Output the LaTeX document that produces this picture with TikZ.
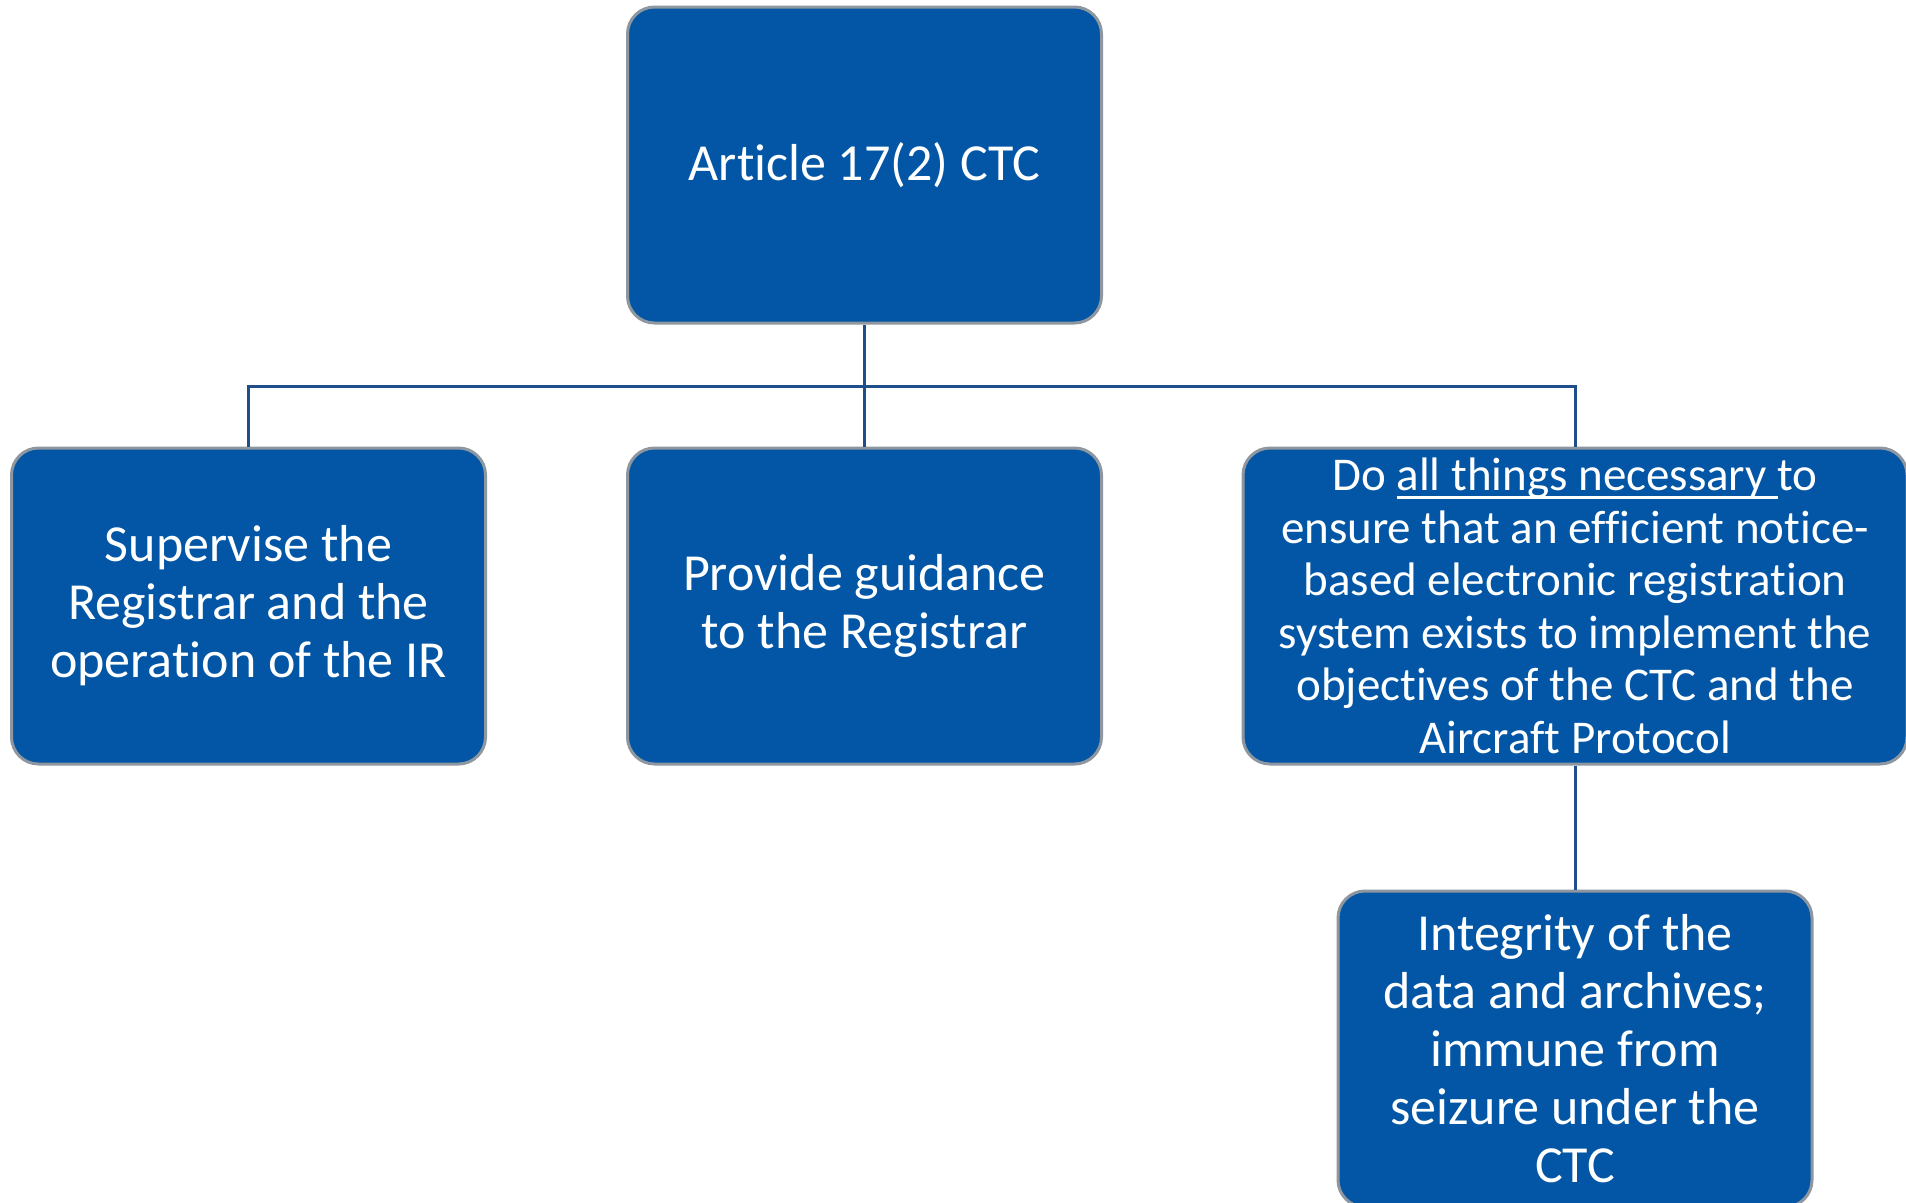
\documentclass[tikz,border=0pt]{standalone}
\usepackage{fontspec}
\setmainfont{Carlito}[Ligatures={NoCommon}]
\newcommand\myul[1]{\setbox0\hbox{#1}\rlap{\rule[-8pt]{\wd0}{2.5pt}}\box0}
\newcommand\nl{\kern0pt{}}
\definecolor{boxblue}{HTML}{0256A5}
\definecolor{boxedge}{HTML}{8E979F}
\definecolor{linkblue}{HTML}{1F4E8A}
\begin{document}
\begin{tikzpicture}[x=1pt,y=-1pt,
  box/.style={draw=boxedge, line width=3pt, fill=boxblue, rounded corners=27pt,
    text=white, align=center, inner sep=0pt, minimum width=474pt, minimum height=316pt,
    font=\fontsize{52}{58}\selectfont},
  link/.style={draw=linkblue, line width=3pt}]
\useasboundingbox (0,0) rectangle (1906,1202);
\node[box] (top) at (864.5,165) {Art\nl icle 17(2) CTC};
\node[box] (left) at (248.5,606) {Supervise the\\Registrar and the\\operat\nl ion of the IR};
\node[box] (mid) at (864.5,606) {Provide guidance\\to the Registrar};
\node[box, minimum width=664pt, font=\fontsize{47}{52.5}\selectfont] (right) at (1575,606)
  {Do \myul{all things necessary\ }to\\ensure that an efficient not\nl ice-\\based electronic registrat\nl ion\\system exists to implement the\\object\nl ives of the CTC and the\\Aircraf\nl t Protocol};
\node[box] (bot) at (1575,1049) {Integrity of the\\data and archives;\\immune from\\seizure under the\\CTC};
\coordinate (j) at (864.5,386);
\draw[link] (top.south) -- (j) -- (mid.north);
\draw[link] (j) -| (left.north);
\draw[link] (j) -| (right.north);
\draw[link] (right.south) -- (bot.north);
\end{tikzpicture}
\end{document}
